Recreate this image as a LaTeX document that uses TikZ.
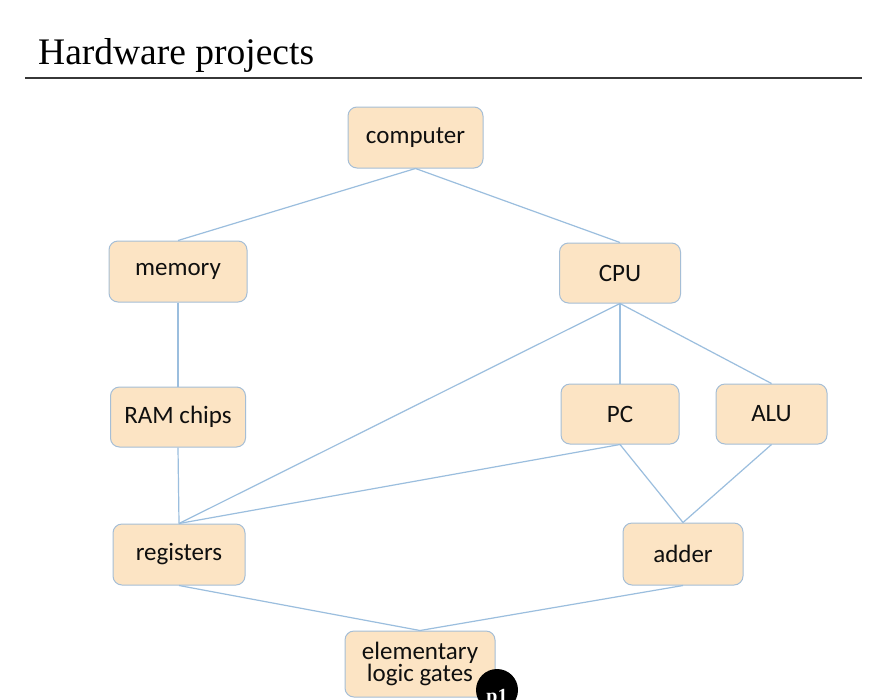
\documentclass[tikz,border=0pt]{standalone}
\usepackage{fontspec}
\setmainfont{Liberation Serif}
\newfontfamily\boxfont{Carlito}
\newfontfamily\badgefont{Liberation Serif}
\definecolor{boxfill}{RGB}{252,228,196}
\definecolor{boxborder}{RGB}{165,190,214}
\definecolor{linkblue}{RGB}{155,190,222}
\definecolor{textdark}{RGB}{15,15,15}
\definecolor{rulegray}{RGB}{55,55,55}
\begin{document}
\begin{tikzpicture}[x=1pt,y=-1pt,
  hw/.style={draw=boxborder, fill=boxfill, rounded corners=9pt, line width=1pt,
    font=\boxfont\fontsize{25}{22.5}\selectfont, text=textdark, align=center, inner sep=0pt},
  link/.style={draw=linkblue, line width=1.2pt}]
\clip (0,0) rectangle (874,699);
\fill[white] (0,0) rectangle (874,699);
% title
\node[anchor=base west, inner sep=0pt, font=\fontsize{37.5}{40}\selectfont, text=black] (title) at (38,64) {Hardware projects};
\coordinate (rl) at (25,78);
\coordinate (rr) at (862,78);
\draw[rulegray, line width=2pt] (rl) -- (rr);
% nodes
\node[hw, minimum width=135pt, minimum height=61pt] (computer) at (415.5,137.5) {computer};
\node[hw, minimum width=138pt, minimum height=61pt] (memory) at (178,271.5) {memory};
\node[hw, minimum width=121pt, minimum height=60pt] (cpu) at (620,273) {CPU};
\node[hw, minimum width=135pt, minimum height=60pt] (ram) at (178,417) {RAM chips};
\node[hw, minimum width=118pt, minimum height=60pt] (pc) at (620,414) {PC};
\node[hw, minimum width=111pt, minimum height=60pt] (alu) at (771.5,414) {ALU};
\node[hw, minimum width=132pt, minimum height=61pt] (registers) at (179,554.5) {registers};
\node[hw, minimum width=120pt, minimum height=62pt] (adder) at (683,554) {adder};
\node[hw, minimum width=150pt, minimum height=66pt] (gates) at (420,664) {elementary\\logic gates};
% links
\draw[link] (computer.south) -- (memory.north);
\draw[link] (computer.south) -- (cpu.north);
\draw[link] (memory.south) -- (ram.north);
\draw[link] (ram.south) -- (registers.north);
\draw[link] (cpu.south) -- (registers.north);
\draw[link] (cpu.south) -- (pc.north);
\draw[link] (cpu.south) -- (alu.north);
\draw[link] (pc.south) -- (registers.north);
\draw[link] (pc.south) -- (adder.north);
\draw[link] (alu.south) -- (adder.north);
\draw[link] (registers.south) -- (gates.north);
\draw[link] (adder.south) -- (gates.north);
% badge
\node[circle, fill=black, minimum size=42pt, inner sep=0pt] (badge) at (497,690) {};
\node[text=white, inner sep=0pt, anchor=base, font=\badgefont\bfseries\fontsize{20}{20}\selectfont] (badgetext) at (497,702) {p1};
\end{tikzpicture}
\end{document}
